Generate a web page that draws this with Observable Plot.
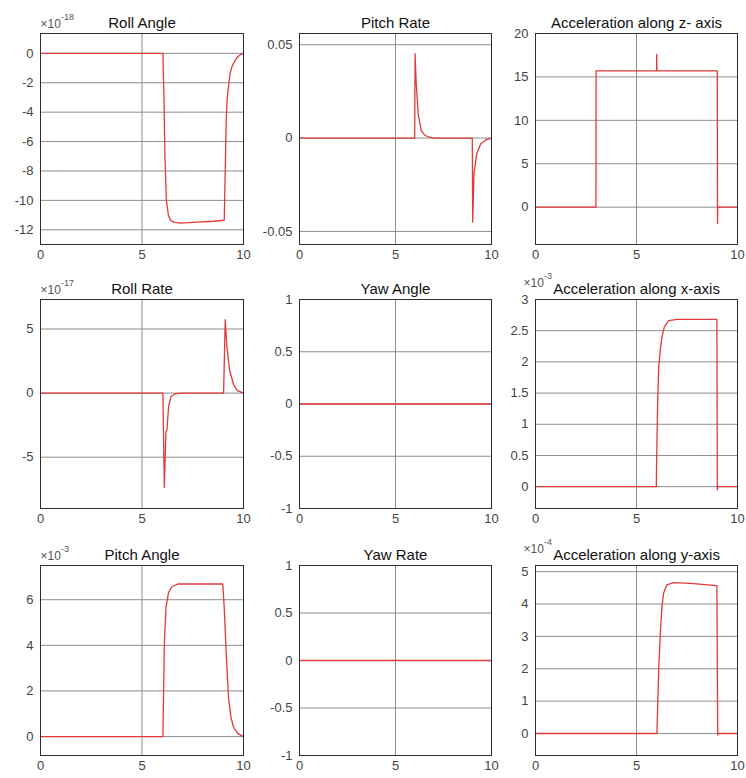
<!DOCTYPE html>
<html><head><meta charset="utf-8">
<script src="https://cdn.jsdelivr.net/npm/d3@7"></script>
<script src="https://cdn.jsdelivr.net/npm/@observablehq/plot@0.6"></script>
<style>
body{margin:0;background:#fff;}
#wrap{position:relative;width:746px;height:778px;overflow:hidden;background:#fff;font-family:"Liberation Sans",Arial,sans-serif;}
#wrap svg{position:absolute;background:transparent;max-width:none;}
</style></head><body><div id="wrap"></div>
<script>
// ---- data (time in s, values in axis units; exponents shown separately) ----
const xTicks = [0, 5, 10];

const rollAngleT = [0, 6.03, 6.08, 6.13, 6.2, 6.3, 6.4, 6.6, 6.9, 7.5, 8.5, 9.05, 9.1, 9.15, 9.2, 9.26, 9.34, 9.42, 9.51, 9.62, 9.75, 9.88, 10];
const rollAngleV = [0, 0, -3, -7, -10, -11.0, -11.35, -11.5, -11.55, -11.5, -11.42, -11.35, -8, -4.5, -3.0, -2.27, -1.36, -0.95, -0.68, -0.4, -0.2, -0.06, 0];
const rollAngleTicks = [0, -2, -4, -6, -8, -10, -12];

const pitchRateT = [0, 6.0, 6.02, 6.08, 6.18, 6.34, 6.5, 6.65, 7.0, 9.0, 9.02, 9.09, 9.23, 9.44, 9.7, 10];
const pitchRateV = [0, 0, 0.0452, 0.029, 0.013, 0.004, 0.0018, 0.0008, 0, 0, -0.045, -0.019, -0.0084, -0.003, -0.001, 0];
const pitchRateTicks = [-0.05, 0, 0.05];

const accZT = [0, 2.99, 3.0, 5.99, 6.0, 6.01, 9.0, 9.01, 9.02, 10];
const accZV = [0, 0, 15.7, 15.7, 17.6, 15.7, 15.7, -1.9, 0, 0];
const accZTicks = [0, 5, 10, 15, 20];

const rollRateT = [0, 6.03, 6.1, 6.18, 6.23, 6.31, 6.43, 6.64, 7.0, 9.02, 9.1, 9.18, 9.31, 9.51, 9.7, 10];
const rollRateV = [0, 0, -7.37, -3.0, -2.86, -1.04, -0.26, -0.05, 0, 0, 5.73, 3.65, 1.82, 0.65, 0.2, 0];
const rollRateTicks = [-5, 0, 5];

const yawAngleT = [0, 10];
const yawAngleV = [0, 0];
const yawRateT = [0, 10];
const yawRateV = [0, 0];
const yawTicks = [-1, -0.5, 0, 0.5, 1];

const accXT = [0, 5.98, 6.0, 6.05, 6.1, 6.18, 6.26, 6.38, 6.59, 7.0, 8.98, 9.0, 9.03, 10];
const accXV = [0, 0, 0.5, 1.4, 1.9, 2.2, 2.4, 2.56, 2.66, 2.68, 2.68, -0.05, 0, 0];
const accXTicks = [0, 0.5, 1, 1.5, 2, 2.5, 3];

const pitchAngleT = [0, 6.03, 6.1, 6.18, 6.31, 6.48, 6.8, 8.98, 9.05, 9.15, 9.26, 9.38, 9.51, 9.7, 10];
const pitchAngleV = [0, 0, 4.06, 5.66, 6.32, 6.58, 6.69, 6.69, 5.66, 3.62, 1.72, 0.85, 0.41, 0.15, 0];
const pitchAngleTicks = [0, 2, 4, 6];

const accYT = [0, 6.01, 6.1, 6.18, 6.26, 6.34, 6.5, 6.84, 7.66, 8.98, 9.02, 9.05, 10];
const accYV = [0, 0, 1.96, 3.1, 3.92, 4.33, 4.59, 4.66, 4.64, 4.57, -0.05, 0, 0];
const accYTicks = [0, 1, 2, 3, 4, 5];

const titles = ["Roll Angle", "Pitch Rate", "Acceleration along z- axis",
  "Roll Rate", "Yaw Angle", "Acceleration along x-axis",
  "Pitch Angle", "Yaw Rate", "Acceleration along y-axis"];
const exponents = ["-18", null, null, "-17", null, "-3", "-3", null, "-4"];

// ---- layout ----
const cols = [[40, 243], [299, 491], [535, 737]];
const rows = [[33, 244], [299, 508], [565, 755]];

const panels = [
  {t: rollAngleT, v: rollAngleV, ticks: rollAngleTicks, domain: [-13, 1.35]},
  {t: pitchRateT, v: pitchRateV, ticks: pitchRateTicks, domain: [-0.057, 0.056]},
  {t: accZT, v: accZV, ticks: accZTicks, domain: [-4.3, 20]},
  {t: rollRateT, v: rollRateV, ticks: rollRateTicks, domain: [-9, 7.3]},
  {t: yawAngleT, v: yawAngleV, ticks: yawTicks, domain: [-1, 1]},
  {t: accXT, v: accXV, ticks: accXTicks, domain: [-0.35, 3]},
  {t: pitchAngleT, v: pitchAngleV, ticks: pitchAngleTicks, domain: [-0.83, 7.5]},
  {t: yawRateT, v: yawRateV, ticks: yawTicks, domain: [-1, 1]},
  {t: accYT, v: accYV, ticks: accYTicks, domain: [-0.68, 5.19]}
];

const wrap = document.getElementById("wrap");
const ML = 48, MR = 10, MT = 34, MB = 26;
const fmt = d => String(d);

panels.forEach((p, i) => {
  const [fx0, fx1] = cols[i % 3];
  const [fy0, fy1] = rows[Math.floor(i / 3)];
  const pts = p.t.map((t, k) => ({t, v: p.v[k]}));
  const marks = [
    Plot.ruleY(p.ticks, {stroke: "#8e8e8e", strokeWidth: 1}),
    Plot.ruleX([5], {stroke: "#8e8e8e", strokeWidth: 1}),
    Plot.line(pts, {x: "t", y: "v", stroke: "#e23a3a", strokeWidth: 1.3}),
    Plot.frame({stroke: "#2e2e2e", strokeWidth: 1}),
    Plot.text([titles[i]], {text: d => d, frameAnchor: "top", dy: -16, fontSize: 15, fill: "#111"})
  ];
  if (exponents[i]) {
    // long titles in column 3 reach the left edge: nudge the multiplier left/up so texts don't collide
    const c3 = i % 3 === 2;
    const sx = c3 ? -12 : 0;
    const sy = c3 ? -7 : 0;
    marks.push(Plot.text(["×10"], {text: d => d, frameAnchor: "top-left", dx: sx, dy: -14 + sy, textAnchor: "start", fontSize: 12, fill: "#555"}));
    marks.push(Plot.text([exponents[i]], {text: d => d, frameAnchor: "top-left", dx: sx + 20.5, dy: -20 + sy, textAnchor: "start", fontSize: 9, fill: "#555"}));
  }
  const chart = Plot.plot({
    width: fx1 - fx0 + ML + MR,
    height: fy1 - fy0 + MT + MB,
    marginLeft: ML, marginRight: MR, marginTop: MT, marginBottom: MB,
    style: {fontFamily: '"Liberation Sans", Arial, sans-serif', fontSize: "13px", color: "#444", background: "transparent", overflow: "visible"},
    x: {domain: [0, 10], ticks: xTicks, tickSize: 0, tickPadding: 5, label: null, tickFormat: fmt},
    y: {domain: p.domain, ticks: p.ticks, tickSize: 0, tickPadding: 7, label: null, tickFormat: fmt},
    marks
  });
  chart.style.left = (fx0 - ML) + "px";
  chart.style.top = (fy0 - MT) + "px";
  wrap.appendChild(chart);
});
</script></body></html>
